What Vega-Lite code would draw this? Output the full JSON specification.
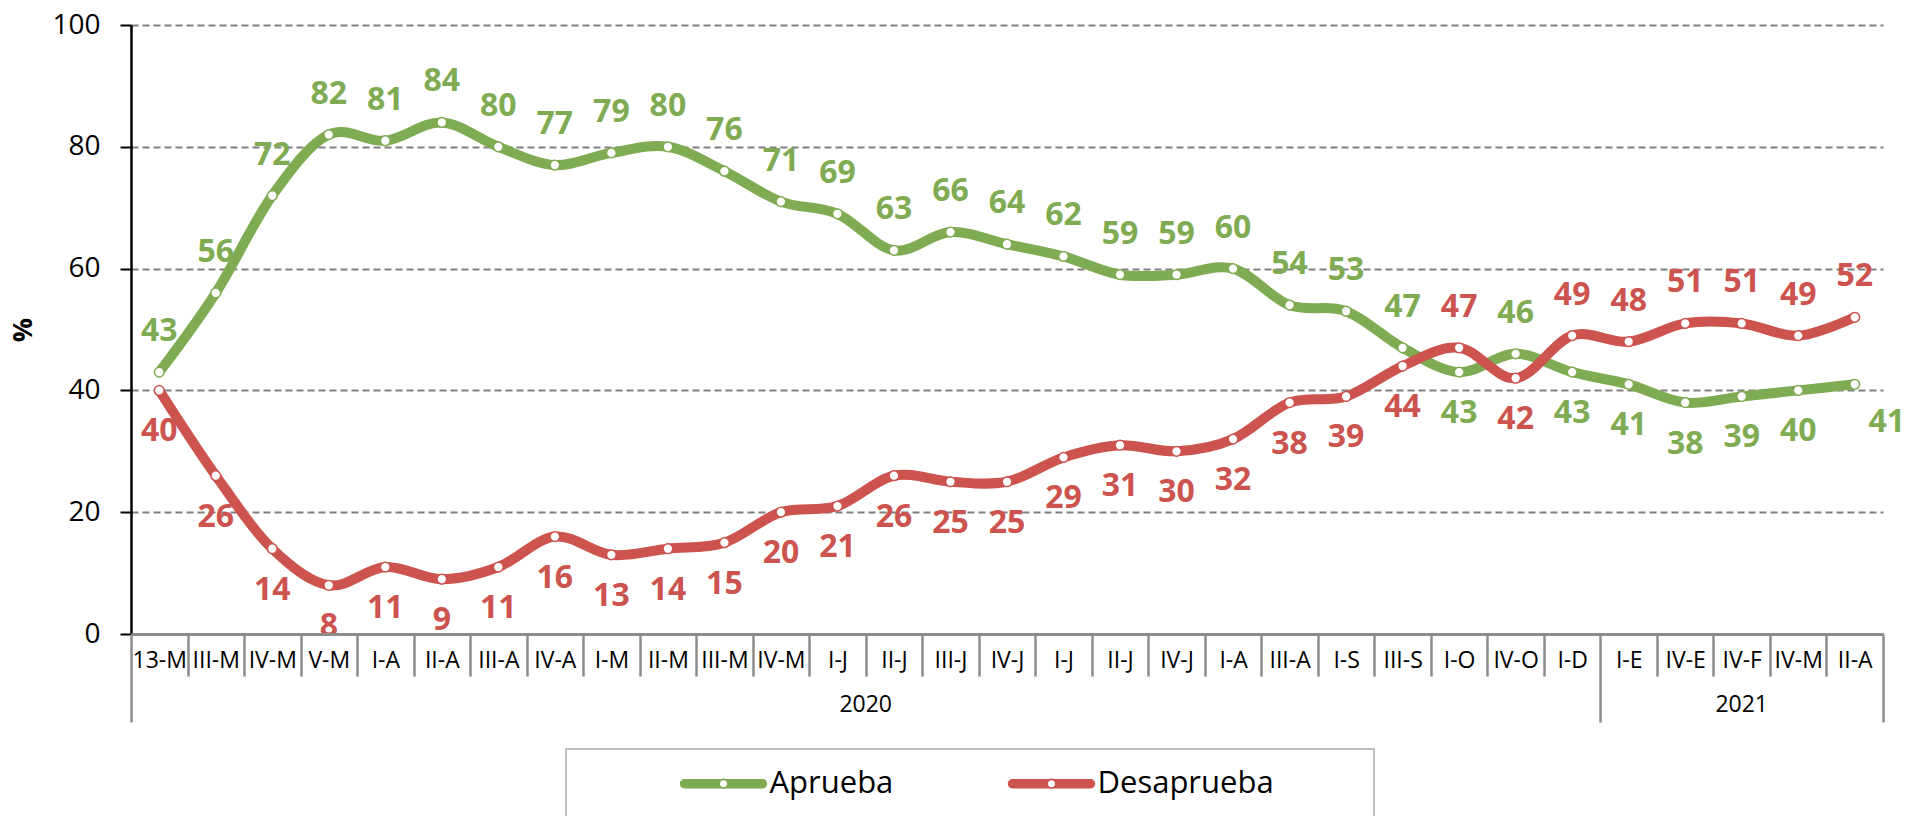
{
  "$schema": "https://vega.github.io/schema/vega-lite/v6.json",
  "width": 1752,
  "height": 609,
  "autosize": {"type": "none"},
  "padding": {"left": 131, "top": 25, "right": 25, "bottom": 182},
  "background": "white",
  "config": {"view": {"stroke": null}, "font": "Open Sans"},
  "datasets": {
    "main": [
      {"k": "01|13-M", "s": "Aprueba", "v": 43}, {"k": "01|13-M", "s": "Desaprueba", "v": 40},
      {"k": "02|III-M", "s": "Aprueba", "v": 56}, {"k": "02|III-M", "s": "Desaprueba", "v": 26},
      {"k": "03|IV-M", "s": "Aprueba", "v": 72}, {"k": "03|IV-M", "s": "Desaprueba", "v": 14},
      {"k": "04|V-M", "s": "Aprueba", "v": 82}, {"k": "04|V-M", "s": "Desaprueba", "v": 8},
      {"k": "05|I-A", "s": "Aprueba", "v": 81}, {"k": "05|I-A", "s": "Desaprueba", "v": 11},
      {"k": "06|II-A", "s": "Aprueba", "v": 84}, {"k": "06|II-A", "s": "Desaprueba", "v": 9},
      {"k": "07|III-A", "s": "Aprueba", "v": 80}, {"k": "07|III-A", "s": "Desaprueba", "v": 11},
      {"k": "08|IV-A", "s": "Aprueba", "v": 77}, {"k": "08|IV-A", "s": "Desaprueba", "v": 16},
      {"k": "09|I-M", "s": "Aprueba", "v": 79}, {"k": "09|I-M", "s": "Desaprueba", "v": 13},
      {"k": "10|II-M", "s": "Aprueba", "v": 80}, {"k": "10|II-M", "s": "Desaprueba", "v": 14},
      {"k": "11|III-M", "s": "Aprueba", "v": 76}, {"k": "11|III-M", "s": "Desaprueba", "v": 15},
      {"k": "12|IV-M", "s": "Aprueba", "v": 71}, {"k": "12|IV-M", "s": "Desaprueba", "v": 20},
      {"k": "13|I-J", "s": "Aprueba", "v": 69}, {"k": "13|I-J", "s": "Desaprueba", "v": 21},
      {"k": "14|II-J", "s": "Aprueba", "v": 63}, {"k": "14|II-J", "s": "Desaprueba", "v": 26},
      {"k": "15|III-J", "s": "Aprueba", "v": 66}, {"k": "15|III-J", "s": "Desaprueba", "v": 25},
      {"k": "16|IV-J", "s": "Aprueba", "v": 64}, {"k": "16|IV-J", "s": "Desaprueba", "v": 25},
      {"k": "17|I-J", "s": "Aprueba", "v": 62}, {"k": "17|I-J", "s": "Desaprueba", "v": 29},
      {"k": "18|II-J", "s": "Aprueba", "v": 59}, {"k": "18|II-J", "s": "Desaprueba", "v": 31},
      {"k": "19|IV-J", "s": "Aprueba", "v": 59}, {"k": "19|IV-J", "s": "Desaprueba", "v": 30},
      {"k": "20|I-A", "s": "Aprueba", "v": 60}, {"k": "20|I-A", "s": "Desaprueba", "v": 32},
      {"k": "21|III-A", "s": "Aprueba", "v": 54}, {"k": "21|III-A", "s": "Desaprueba", "v": 38},
      {"k": "22|I-S", "s": "Aprueba", "v": 53}, {"k": "22|I-S", "s": "Desaprueba", "v": 39},
      {"k": "23|III-S", "s": "Aprueba", "v": 47}, {"k": "23|III-S", "s": "Desaprueba", "v": 44},
      {"k": "24|I-O", "s": "Aprueba", "v": 43}, {"k": "24|I-O", "s": "Desaprueba", "v": 47},
      {"k": "25|IV-O", "s": "Aprueba", "v": 46}, {"k": "25|IV-O", "s": "Desaprueba", "v": 42},
      {"k": "26|I-D", "s": "Aprueba", "v": 43}, {"k": "26|I-D", "s": "Desaprueba", "v": 49},
      {"k": "27|I-E", "s": "Aprueba", "v": 41}, {"k": "27|I-E", "s": "Desaprueba", "v": 48},
      {"k": "28|IV-E", "s": "Aprueba", "v": 38}, {"k": "28|IV-E", "s": "Desaprueba", "v": 51},
      {"k": "29|IV-F", "s": "Aprueba", "v": 39}, {"k": "29|IV-F", "s": "Desaprueba", "v": 51},
      {"k": "30|IV-M", "s": "Aprueba", "v": 40}, {"k": "30|IV-M", "s": "Desaprueba", "v": 49},
      {"k": "31|II-A", "s": "Aprueba", "v": 41}, {"k": "31|II-A", "s": "Desaprueba", "v": 52}
    ]
  },
  "data": {"name": "main"},
  "encoding": {
    "x": {
      "field": "k", "type": "ordinal",
      "scale": {"type": "band", "paddingInner": 0, "paddingOuter": 0},
      "axis": {
        "title": null,
        "labelExpr": "split(datum.value, '|')[1]",
        "labelAngle": 0,
        "labelFont": "Open Sans", "labelFontSize": 23, "labelColor": "black",
        "labelBaseline": "middle", "labelOverlap": false, "labelBound": false, "labelFlush": false, "labelLimit": 200,
        "domainColor": "#8c8c8c", "domainWidth": 3,
        "tickBand": "extent",
        "tickColor": "#8c8c8c", "tickWidth": 2.5,
        "tickSize": {"condition": {"test": "datum.value == '26|I-D' || datum.value == '31|II-A' || datum.value == null || datum.index < 0", "value": 88}, "value": 42},
        "labelPadding": {"condition": {"test": "datum.value == '26|I-D' || datum.value == '31|II-A' || datum.value == null || datum.index < 0", "value": -62}, "value": -16},
        "grid": false,
        "zindex": 1
      }
    },
    "y": {
      "field": "v", "type": "quantitative",
      "scale": {"domain": [0, 100]},
      "axis": {
        "title": "%", "values": [0, 20, 40, 60, 80, 100],
        "titleFont": "Open Sans", "titleFontSize": 27, "titleFontWeight": "bold", "titleColor": "black", "titlePadding": 14,
        "labelFont": "Open Sans", "labelFontSize": 28, "labelColor": "black", "labelPadding": 20,
        "tickSize": 11, "tickColor": "black", "tickWidth": 2,
        "domainColor": "black", "domainWidth": 2.5,
        "grid": true, "gridColor": "#808080", "gridDash": [7, 4], "gridWidth": 2.2
      }
    }
  },
  "layer": [
    {
      "mark": {"type": "line", "interpolate": "cardinal", "strokeWidth": 10, "strokeCap": "round", "strokeJoin": "round"},
      "encoding": {
        "color": {
          "field": "s", "type": "nominal",
          "scale": {"domain": ["Aprueba", "Desaprueba"], "range": ["#7fab52", "#cc534e"]},
          "legend": {
            "orient": "none", "legendX": 435, "legendY": 724, "direction": "horizontal",
            "title": " ", "titleOrient": "left", "titlePadding": 95, "titleFontSize": 30,
            "strokeColor": "#bfbfbf", "padding": 19,
            "symbolType": "M-3.9,-0.47L3.9,-0.47A0.47,0.47 0 0 1 3.9,0.47L-3.9,0.47A0.47,0.47 0 0 1 -3.9,-0.47Z M0.52,0A0.52,0.52 0 0 1 -0.52,0A0.52,0.52 0 0 1 0.52,0Z M0.36,0A0.36,0.36 0 0 0 -0.36,0A0.36,0.36 0 0 0 0.36,0Z M0.36,0A0.36,0.36 0 0 0 -0.36,0A0.36,0.36 0 0 0 0.36,0Z",
            "symbolSize": 400, "symbolStrokeWidth": 0, "symbolOffset": 28,
            "labelOffset": 30.5, "labelFontSize": 31, "labelFont": "Open Sans", "labelColor": "black", "labelLimit": 600,
            "columnPadding": 113,
            "labelExpr": "datum.label == 'Desaprueba' ? 'Desaprueba\u00a0\u00a0\u00a0\u00a0\u00a0\u00a0\u00a0\u00a0\u00a0\u00a0\u200b' : datum.label",
            "encode": {
              "symbols": {"update": {"fill": {"scale": "color", "field": "value"}, "fillOpacity": {"value": 1}, "stroke": {"value": "transparent"}, "opacity": {"value": 1}}},
              "legend": {"update": {"strokeWidth": {"value": 2}}}
            }
          }
        }
      }
    },
    {
      "mark": {"type": "point", "filled": false, "fill": "white", "fillOpacity": 1, "opacity": 1, "strokeWidth": 1.5, "size": 95},
      "encoding": {"color": {"field": "s", "type": "nominal", "legend": null}}
    },
    {
      "transform": [{"filter": "(datum.s == 'Aprueba') != (indexof([24,26,27,28,29,30,31], toNumber(slice(datum.k,0,2))) >= 0)"}],
      "mark": {"type": "text", "font": "Open Sans", "fontSize": 32, "fontWeight": "bold", "baseline": "middle", "dy": -41},
      "encoding": {"text": {"field": "v", "type": "quantitative"}, "color": {"field": "s", "type": "nominal", "legend": null}}
    },
    {
      "transform": [{"filter": "(datum.s == 'Aprueba') == (indexof([24,26,27,28,29,30,31], toNumber(slice(datum.k,0,2))) >= 0) && !(datum.s == 'Aprueba' && datum.k == '31|II-A')"}],
      "mark": {"type": "text", "font": "Open Sans", "fontSize": 32, "fontWeight": "bold", "baseline": "middle", "dy": 41},
      "encoding": {"text": {"field": "v", "type": "quantitative"}, "color": {"field": "s", "type": "nominal", "legend": null}}
    },
    {
      "transform": [{"filter": "datum.s == 'Aprueba' && datum.k == '31|II-A'"}],
      "mark": {"type": "text", "font": "Open Sans", "fontSize": 32, "fontWeight": "bold", "baseline": "middle", "dy": 38, "dx": 32},
      "encoding": {"text": {"field": "v", "type": "quantitative"}, "color": {"field": "s", "type": "nominal", "legend": null}}
    },
    {
      "transform": [{"filter": "datum.k == '14|II-J' && datum.s == 'Aprueba'"}],
      "mark": {"type": "text", "font": "Open Sans", "fontSize": 23, "color": "black", "baseline": "middle", "align": "center", "dy": 71},
      "encoding": {
        "x": {"field": "k", "type": "ordinal", "bandPosition": 0},
        "y": {"datum": 0, "type": "quantitative"},
        "text": {"value": "2020"}
      }
    },
    {
      "transform": [{"filter": "datum.k == '29|IV-F' && datum.s == 'Aprueba'"}],
      "mark": {"type": "text", "font": "Open Sans", "fontSize": 23, "color": "black", "baseline": "middle", "align": "center", "dy": 71},
      "encoding": {
        "x": {"field": "k", "type": "ordinal"},
        "y": {"datum": 0, "type": "quantitative"},
        "text": {"value": "2021"}
      }
    }
  ]
}
